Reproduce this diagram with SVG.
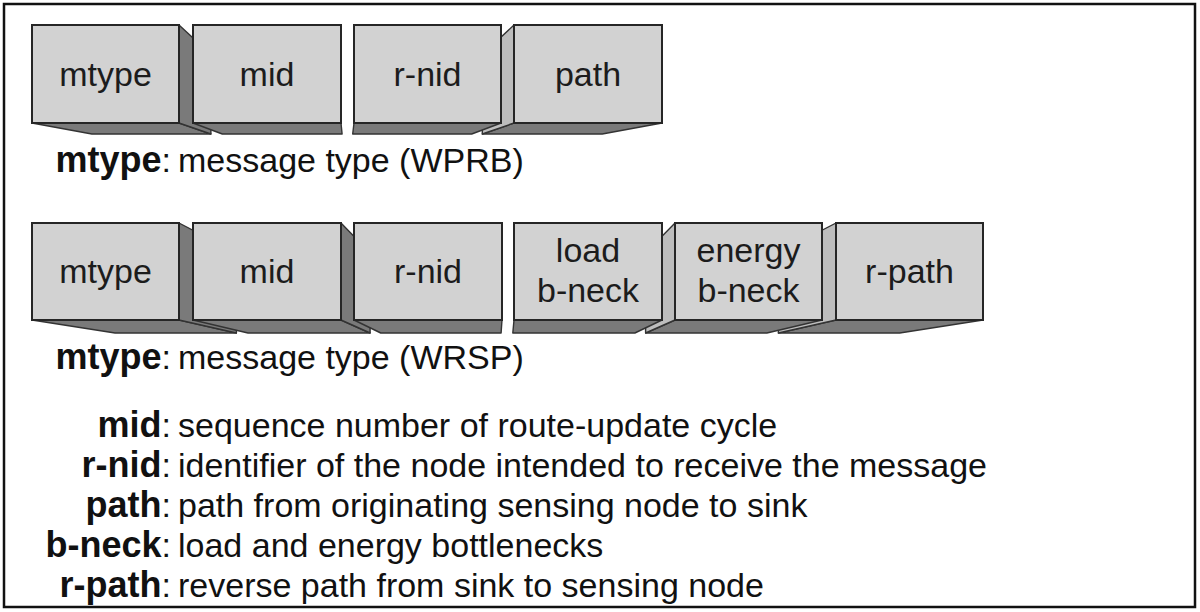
<svg xmlns="http://www.w3.org/2000/svg" width="1200" height="612" viewBox="0 0 1200 612">
<style>
.front{fill:#d2d2d2;stroke:#262626;stroke-width:2}
.dark{fill:#7a7a7a;stroke:#333;stroke-width:1.4;stroke-linejoin:round}
.light{fill:#bdbdbd;stroke:#333;stroke-width:1.4;stroke-linejoin:round}
.lbl{font-family:"Liberation Sans",Arial,sans-serif;font-size:34px;fill:#1c1c1c;text-anchor:middle}
.cap{font-family:"Liberation Sans",Arial,sans-serif;font-size:34px;fill:#111}
.key{font-family:"Liberation Sans",Arial,sans-serif;font-size:34px;fill:#111;text-anchor:end}
.b{font-weight:bold;font-size:36px}
</style>
<rect x="0" y="0" width="1200" height="612" fill="#fff"/>
<rect x="4" y="4" width="1191" height="603" fill="none" stroke="#111" stroke-width="2.5"/>

<!-- Row 1 (WPRB) -->
<g id="r1-mtype">
<polygon class="dark" points="32,123 179,123 210.9,134 91.9,134"/>
<polygon class="dark" points="179,25 210.9,54.6 210.9,134 179,123"/>
<rect class="front" x="32" y="25" width="147" height="98"/>
<text class="lbl" x="105.5" y="86">mtype</text>
</g>
<g id="r1-path">
<polygon class="dark" points="514,123 662,123 602.2,134 482.3,134"/>
<polygon class="light" points="514,25 482.3,54.6 482.3,134 514,123"/>
<rect class="front" x="514" y="25" width="148" height="98"/>
<text class="lbl" x="588" y="86">path</text>
</g>
<g id="r1-mid">
<polygon class="dark" points="193,123 341,123 342.1,134 222.3,134"/>
<rect class="front" x="193" y="25" width="148" height="98"/>
<text class="lbl" x="267" y="86">mid</text>
</g>
<g id="r1-rnid">
<polygon class="dark" points="354,123 501,123 471.7,134 352.7,134"/>
<rect class="front" x="354" y="25" width="147" height="98"/>
<text class="lbl" x="427.5" y="86">r-nid</text>
</g>

<text class="key" x="171" y="172"><tspan class="b">mtype</tspan>:</text>
<text class="cap" x="178" y="172">message type (WPRB)</text>

<!-- Row 2 (WRSP) -->
<g id="r2-mtype">
<polygon class="dark" points="32,320 179,320 236.4,333 115.1,333"/>
<polygon class="dark" points="179,223 236.4,252.9 236.4,333 179,320"/>
<rect class="front" x="32" y="223" width="147" height="97"/>
<text class="lbl" x="105.5" y="283">mtype</text>
</g>
<g id="r2-rpath">
<polygon class="dark" points="836,320 983,320 899.7,333 778.4,333"/>
<polygon class="light" points="836,223 778.4,252.9 778.4,333 836,320"/>
<rect class="front" x="836" y="223" width="147" height="97"/>
<text class="lbl" x="909.5" y="283">r-path</text>
</g>
<g id="r2-mid">
<polygon class="dark" points="193,320 341,320 370.1,333 248,333"/>
<polygon class="dark" points="341,223 370.1,252.9 370.1,333 341,320"/>
<rect class="front" x="193" y="223" width="148" height="97"/>
<text class="lbl" x="267" y="283">mid</text>
</g>
<g id="r2-energy">
<polygon class="dark" points="675,320 822,320 766.9,333 645.6,333"/>
<polygon class="light" points="675,223 645.6,252.9 645.6,333 675,320"/>
<rect class="front" x="675" y="223" width="147" height="97"/>
<text class="lbl" x="748.5" y="262">energy</text>
<text class="lbl" x="748.5" y="302">b-neck</text>
</g>
<g id="r2-rnid">
<polygon class="dark" points="354,320 502,320 501.1,333 380.8,333"/>
<rect class="front" x="354" y="223" width="148" height="97"/>
<text class="lbl" x="428" y="283">r-nid</text>
</g>
<g id="r2-load">
<polygon class="dark" points="514,320 662,320 634.9,333 512.8,333"/>
<rect class="front" x="514" y="223" width="148" height="97"/>
<text class="lbl" x="588" y="262">load</text>
<text class="lbl" x="588" y="302">b-neck</text>
</g>

<text class="key" x="171" y="369"><tspan class="b">mtype</tspan>:</text>
<text class="cap" x="178" y="369">message type (WRSP)</text>

<!-- Legend -->
<text class="key" x="171" y="437"><tspan class="b">mid</tspan>:</text>
<text class="cap" x="178" y="437">sequence number of route-update cycle</text>
<text class="key" x="171" y="477"><tspan class="b">r-nid</tspan>:</text>
<text class="cap" x="178" y="477">identifier of the node intended to receive the message</text>
<text class="key" x="171" y="517"><tspan class="b">path</tspan>:</text>
<text class="cap" x="178" y="517">path from originating sensing node to sink</text>
<text class="key" x="171" y="557"><tspan class="b">b-neck</tspan>:</text>
<text class="cap" x="178" y="557">load and energy bottlenecks</text>
<text class="key" x="171" y="597"><tspan class="b">r-path</tspan>:</text>
<text class="cap" x="178" y="597">reverse path from sink to sensing node</text>
</svg>
